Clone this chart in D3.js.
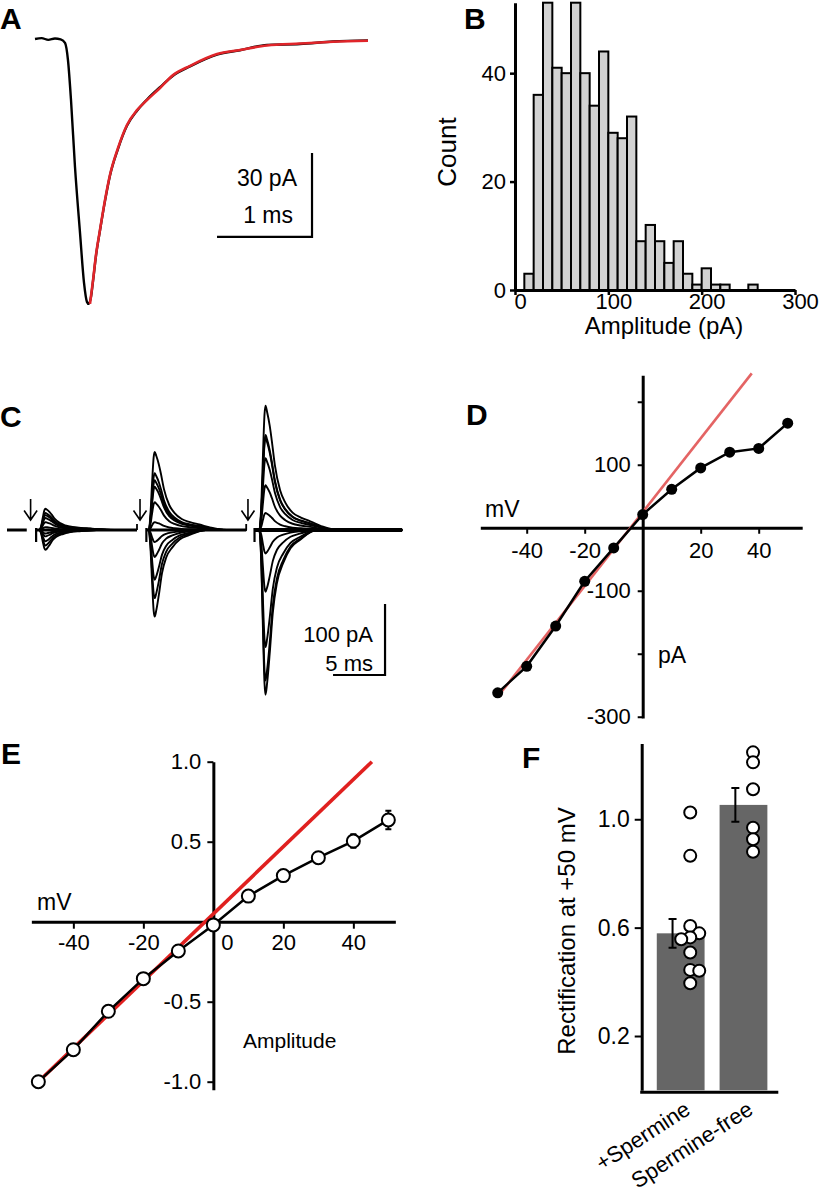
<!DOCTYPE html>
<html><head><meta charset="utf-8">
<script src="https://cdn.jsdelivr.net/npm/d3@7"></script>
<style>
body{margin:0;background:#fff;}
svg text{font-family:"Liberation Sans",Arial,Helvetica,sans-serif;fill:#000;}
</style></head><body>
<svg id="fig" width="827" height="1195"></svg>
<script>
// ================= DATA =================
// Panel A: averaged event (time ms, current pA) and its fit
const traceA_t = [0,0.07,0.14,0.21,0.27,0.316,0.347,0.379,0.421,0.474,0.516,0.547,0.565,0.59,0.611,0.642,0.684,0.737,0.789,0.874,0.968,1.074,1.179,1.316,1.453,1.632,1.916,2.158,2.442,2.789,3.137,3.505];
const traceA_i = [0,0.3,-0.3,0.2,-0.1,-1.4,-7.5,-21.8,-45.7,-69.3,-87.1,-93.9,-94.6,-92,-86.4,-77.4,-68.4,-57.8,-48.8,-39.2,-31,-25.6,-21.6,-17.2,-13.1,-9.8,-5.6,-4.0,-2.1,-1.8,-0.9,-0.5];
const fitA_t = [0.579,0.611,0.642,0.684,0.737,0.789,0.874,0.968,1.074,1.179,1.316,1.453,1.632,1.916,2.158,2.442,2.789,3.137,3.505];
const fitA_i = [-94.6,-86.1,-77.1,-68.2,-57.5,-48.6,-38.9,-30.7,-25.4,-21.8,-17.5,-12.9,-9.6,-5.4,-3.9,-2.3,-1.6,-1.0,-0.6];

// Panel B: amplitude histogram (10 pA bins)
const binStarts = [10,20,30,40,50,60,70,80,90,100,110,120,130,140,150,160,170,180,190,200,210,220,230,240,250];
const binCounts = [3,36,53,41,40,53,40,34,44,29,28,32,9,12,9,5,9,3,1,4,1,1,0,0,1];
const histXTicks = [0,100,200,300];
const histYTicks = [0,20,40];

// Panel C: evoked currents at each holding potential, three stimuli
const voltagesC = [-50,-40,-30,-20,-10,0,10,20,30,40,50];
const ampC1 = [-28,-22,-16,-9,-5,4,11,17,21,24,30];
const ampC2 = [-122,-96,-70,-38,-17,11,39,61,70,80,110];
const ampC3 = [-232,-212,-165,-87,-33,24,63,101,130,134,175];
const stimC = [2.27,12.79,23.17];
const onsetC = [3.1,13.6,24.26];
const segStartC = [2.8,13.4,23.8];
const segEndC = [12.5,23.0,38.0];
const preSegC = [0,1.9];
const outwardT = [0,0.2,0.35,0.5,0.6,0.75,1.0,1.2,1.5,2.0,2.5,3.2,4.0,4.9,6.0,7.5];
const outwardV = [0,0.22,0.6,0.93,1.0,0.95,0.84,0.72,0.52,0.32,0.22,0.14,0.1,0.07,0.03,0];
const inwardT = [0,0.2,0.35,0.5,0.6,0.75,1.0,1.3,1.7,2.3,3.0,3.9,5.5];
const inwardV = [0,0.22,0.6,0.93,1.0,0.93,0.75,0.5,0.32,0.2,0.11,0.06,0];

// Panel D: I-V of one cell
const voltagesD = [-50,-40,-30,-20,-10,0,10,20,30,40,50];
const currentsD = [-262,-220,-156,-85,-32,21,61,95,120,126,166];
const fitD_v = [-48.6,37.6];
const fitD_i = [-260,245];
const xTicksD = [-40,-20,20,40];
const yTicksD = [-300,-200,-100,100,200];
const yLabelsD = [-300,-100,100];

// Panel E: normalized I-V (mean ± SEM)
const voltagesE = [-50,-40,-30,-20,-10,0,10,20,30,40,50];
const ampE = [-1.0,-0.80,-0.56,-0.356,-0.183,-0.02,0.16,0.288,0.40,0.504,0.636];
const semE = [0.01,0.01,0.01,0.01,0.01,0.01,0.01,0.015,0.02,0.042,0.058];
const fitE_v = [-50,45.3];
const fitE_a = [-1.0,1.0];
const xTicksE = [-40,-20,20,40];
const yTicksE = [-1.0,-0.5,0.5,1.0];

// Panel F: rectification index
const groupsF = ["+Spermine","Spermine-free"];
const meansF = [0.579,1.053];
const semF = [0.053,0.062];
const cellsSpermine = [1.025,0.865,0.606,0.579,0.564,0.557,0.508,0.444,0.441,0.395];
const cellsFree = [1.247,1.21,1.111,0.969,0.926,0.88];
const yTicksF = [0.2,0.6,1.0];

// ================= DRAWING =================
const FONT = '"Liberation Sans", Arial, Helvetica, sans-serif';
const svg = d3.select("#fig");
svg.append("rect").attr("width",827).attr("height",1195).attr("fill","#fff");

function styleAxis(g, sw, fs, tw){
  g.attr("font-family", null).attr("font-size", null);
  g.select(".domain").attr("stroke","#000").attr("stroke-width", sw);
  g.selectAll(".tick line").attr("stroke","#000").attr("stroke-width", tw||2);
  g.selectAll(".tick text").style("font-size", fs+"px").style("font-family", FONT).attr("fill","#000");
}
function label(x,y,t,opts){
  opts = opts||{};
  const el = svg.append("text").attr("x",x).attr("y",y).text(t)
    .style("font-size",(opts.size||22)+"px")
    .attr("text-anchor",opts.anchor||"start");
  if(opts.bold) el.style("font-weight","bold");
  if(opts.transform) el.attr("transform",opts.transform);
  return el;
}
// panel letters
[["A",0,29],["B",464,29],["C",0,427],["D",466,425],["E",1,764],["F",522,768]].forEach(d=>label(d[1],d[2],d[0],{bold:true,size:30}));

// ---------- Panel A ----------
{
  const xA = d3.scaleLinear().domain([0,3.5]).range([35,367.5]);
  const yA = d3.scaleLinear().domain([-95,0]).range([305,39]);
  const ln = d3.line().x(d=>xA(d[0])).y(d=>yA(d[1])).curve(d3.curveMonotoneX);
  svg.append("path").attr("d", ln(traceA_t.map((t,i)=>[t,traceA_i[i]])))
    .attr("fill","none").attr("stroke","#000").attr("stroke-width",2.4);
  svg.append("path").attr("d", ln(fitA_t.map((t,i)=>[t,fitA_i[i]])))
    .attr("fill","none").attr("stroke","#e0252a").attr("stroke-width",2.6);
  // scale bar: 30 pA, 1 ms
  const ct = 2.916, ci = -70.7;
  svg.append("path").attr("d",`M${xA(ct-1)},${yA(ci)}H${xA(ct)}V${yA(ci+30)}`)
    .attr("fill","none").attr("stroke","#000").attr("stroke-width",2.2);
  label(297,186,"30 pA",{anchor:"end",size:23});
  label(293,223,"1 ms",{anchor:"end",size:23});
}

// ---------- Panel B ----------
{
  const xB = d3.scaleLinear().domain([0,300]).range([515,795]);
  const yB = d3.scaleLinear().domain([0,53]).range([290,2.7]);
  svg.append("g").selectAll("rect").data(binStarts).join("rect")
    .attr("x",d=>xB(d)).attr("width",d=>xB(d+10)-xB(d))
    .attr("y",(d,i)=>yB(binCounts[i])).attr("height",(d,i)=>yB(0)-yB(binCounts[i]))
    .attr("fill","#d2d2d2").attr("stroke","#000").attr("stroke-width",2)
    .attr("display",(d,i)=>binCounts[i]>0?null:"none");
  const gx = svg.append("g").attr("transform","translate(0,290)")
    .call(d3.axisBottom(xB).tickValues(histXTicks).tickSize(5).tickSizeOuter(0).tickPadding(-2).tickFormat(d=>String(d)));
  styleAxis(gx,3,22,2.5);
  gx.selectAll(".tick text").attr("dx",5);
  const gy = svg.append("g").attr("transform","translate(515,0)")
    .call(d3.axisLeft(yB).tickValues(histYTicks).tickSize(5).tickSizeOuter(0).tickPadding(4).tickFormat(d=>String(d)));
  styleAxis(gy,3,22,2.5);
  label(664,334,"Amplitude (pA)",{anchor:"middle",size:24});
  label(0,0,"Count",{anchor:"middle",size:26,transform:"translate(456,152) rotate(-90)"});
}

// ---------- Panel C ----------
{
  const xC = d3.scaleLinear().domain([0,38]).range([7,402.2]);
  const yC = d3.scaleLinear().domain([-250,190]).range([530+250*0.71,530-190*0.71]);
  const ln = d3.line().x(d=>xC(d[0])).y(d=>yC(d[1])).curve(d3.curveMonotoneX);
  const amps = [ampC1,ampC2,ampC3];
  const gC = svg.append("g");
  // noisy baseline band
  gC.append("path").attr("d",ln([[preSegC[0],0],[preSegC[1],0]])).attr("stroke","#000").attr("stroke-width",3).attr("fill","none");
  segStartC.forEach((s,g)=>{
    gC.append("path").attr("d",`M${xC(s)},${yC(0)}H${xC(segEndC[g])}`).attr("stroke","#000").attr("stroke-width",g===2?3.8:3.2).attr("fill","none");
    // stimulus artifact
    gC.append("path").attr("d",`M${xC(s)},${yC(0)-2}V${yC(0)+12}`).attr("stroke","#000").attr("stroke-width",2.2);
    // end hook before next stimulus
    if(g<segStartC.length-1)
      gC.append("path").attr("d",`M${xC(segEndC[g])},${yC(0)}V${yC(0)-6}`).attr("stroke","#000").attr("stroke-width",1.8);
    // stimulus arrow
    const ax = xC(stimC[g]);
    gC.append("path").attr("d",`M${ax},${499}V${520}M${ax-6.5},${510.5}L${ax},${520}L${ax+6.5},${510.5}`)
      .attr("fill","none").attr("stroke","#000").attr("stroke-width",1.6);
    voltagesC.forEach((v,k)=>{
      const a = amps[g][k];
      const T = a>=0?outwardT:inwardT, V = a>=0?outwardV:inwardV;
      const pts = [[s,0],[onsetC[g]-0.05,0]];
      T.forEach((t,j)=>pts.push([onsetC[g]+t, a*V[j]]));
      pts.push([segEndC[g],0]);
      gC.append("path").attr("d",ln(pts)).attr("fill","none").attr("stroke","#000").attr("stroke-width",1.9);
    });
  });
  // scale bar: 100 pA, 5 ms
  const ct = 36.35, ci = -204.2;
  svg.append("path").attr("d",`M${xC(ct-5)},${yC(ci)}H${xC(ct)}V${yC(ci+100)}`)
    .attr("fill","none").attr("stroke","#000").attr("stroke-width",2.2);
  label(373,642,"100 pA",{anchor:"end",size:22});
  label(373,671,"5 ms",{anchor:"end",size:22});
}

// ---------- Panel D ----------
{
  const xD = d3.scaleLinear().domain([-56,55]).range([480.3,802.2]);
  const yD = d3.scaleLinear().domain([-302,242]).range([718,375.3]);
  const gx = svg.append("g").attr("transform",`translate(0,${yD(0)})`)
    .call(d3.axisBottom(xD).tickValues(xTicksD).tickSize(6).tickSizeOuter(0).tickPadding(9).tickFormat(d=>String(d)));
  styleAxis(gx,3,22,2);
  const gy = svg.append("g").attr("transform",`translate(${xD(0)},0)`)
    .call(d3.axisLeft(yD).tickValues(yTicksD).tickSize(5).tickSizeOuter(0).tickPadding(7).tickFormat(d=>yLabelsD.includes(d)?String(d):""));
  styleAxis(gy,3,22,2);
  svg.append("line").attr("x1",xD(fitD_v[0])).attr("y1",yD(fitD_i[0])).attr("x2",xD(fitD_v[1])).attr("y2",yD(fitD_i[1]))
    .attr("stroke","#e46464").attr("stroke-width",2.6);
  svg.append("path").attr("d",d3.line().x((d,i)=>xD(d)).y((d,i)=>yD(currentsD[i]))(voltagesD))
    .attr("fill","none").attr("stroke","#000").attr("stroke-width",2.5);
  svg.append("g").selectAll("circle").data(voltagesD).join("circle")
    .attr("cx",d=>xD(d)).attr("cy",(d,i)=>yD(currentsD[i])).attr("r",5.5).attr("fill","#000");
  label(485,517,"mV",{size:23});
  label(658,663,"pA",{size:23});
}

// ---------- Panel E ----------
{
  const xE = d3.scaleLinear().domain([-52,52]).range([31.35,395.35]);
  const yE = d3.scaleLinear().domain([-1.05,1.0]).range([1089.7,761.7]);
  const gx = svg.append("g").attr("transform",`translate(0,${yE(0)})`)
    .call(d3.axisBottom(xE).tickValues(xTicksE).tickSize(7).tickSizeOuter(0).tickPadding(6).tickFormat(d=>String(d)));
  styleAxis(gx,3,22,2);
  const gy = svg.append("g").attr("transform",`translate(${xE(0)},0)`)
    .call(d3.axisLeft(yE).tickValues(yTicksE).tickSize(6).tickSizeOuter(0).tickPadding(6).tickFormat(d=>d.toFixed(1)));
  styleAxis(gy,3,22,2);
  label(xE(0)+14,950,"0",{anchor:"middle",size:22});
  svg.append("line").attr("x1",xE(fitE_v[0])).attr("y1",yE(fitE_a[0])).attr("x2",xE(fitE_v[1])).attr("y2",yE(fitE_a[1]))
    .attr("stroke","#e0201f").attr("stroke-width",3.6);
  svg.append("path").attr("d",d3.line().x(d=>xE(d)).y((d,i)=>yE(ampE[i]))(voltagesE))
    .attr("fill","none").attr("stroke","#000").attr("stroke-width",2.5);
  const eb = svg.append("g");
  voltagesE.forEach((v,i)=>{
    const x = xE(v), y1 = yE(ampE[i]+semE[i]), y2 = yE(ampE[i]-semE[i]);
    eb.append("path").attr("d",`M${x},${y1}V${y2}M${x-3},${y1}H${x+3}M${x-3},${y2}H${x+3}`)
      .attr("stroke","#000").attr("stroke-width",2).attr("fill","none");
  });
  svg.append("g").selectAll("circle").data(voltagesE).join("circle")
    .attr("cx",d=>xE(d)).attr("cy",(d,i)=>yE(ampE[i])).attr("r",6.5)
    .attr("fill","#fff").attr("stroke","#000").attr("stroke-width",2);
  label(37,910,"mV",{size:23});
  label(243,1048,"Amplitude",{size:21});
}

// ---------- Panel F ----------
{
  const xF = d3.scaleBand().domain(groupsF).range([641.7,778.3]).paddingInner(0.239).paddingOuter(0.207).align(0.58);
  const yF = d3.scaleLinear().domain([0,1.28]).range([1090.2,743.4]);
  const bw = xF.bandwidth();
  svg.append("g").selectAll("rect").data(groupsF).join("rect")
    .attr("x",d=>xF(d)).attr("width",bw)
    .attr("y",(d,i)=>yF(meansF[i])).attr("height",(d,i)=>yF(0)-yF(meansF[i]))
    .attr("fill","#666666");
  const gy = svg.append("g").attr("transform","translate(641.7,0)")
    .call(d3.axisLeft(yF).tickValues(yTicksF).tickSize(7).tickSizeOuter(0).tickPadding(5).tickFormat(d=>d.toFixed(1)));
  styleAxis(gy,3,23,2);
  svg.append("line").attr("x1",640.2).attr("x2",778.3).attr("y1",yF(0)+2).attr("y2",yF(0)+2)
    .attr("stroke","#000").attr("stroke-width",3);
  // error bars
  groupsF.forEach((g,i)=>{
    const x = xF(g)+bw*0.5-bw*0.17, y1 = yF(meansF[i]+semF[i]), y2 = yF(meansF[i]-semF[i]);
    svg.append("path").attr("d",`M${x},${y1}V${y2}M${x-4},${y1}H${x+4}M${x-4},${y2}H${x+4}`)
      .attr("stroke","#000").attr("stroke-width",2).attr("fill","none");
  });
  // individual cells (dodged)
  function dodge(vals, cx){
    const placed = [];
    const offs = [0,9,-9,18,-18];
    vals.slice().sort((a,b)=>b-a).forEach(v=>{
      const yy = yF(v);
      for(const o of offs){
        if(placed.every(p=>Math.hypot(p.x-(cx+o),p.y-yy)>=9)){placed.push({x:cx+o,y:yy});return;}
      }
      placed.push({x:cx,y:yy});
    });
    return placed;
  }
  [cellsSpermine,cellsFree].forEach((cells,i)=>{
    const cx = xF(groupsF[i])+bw*0.5+bw*0.2;
    svg.append("g").selectAll("circle").data(dodge(cells,cx)).join("circle")
      .attr("cx",d=>d.x).attr("cy",d=>d.y).attr("r",6)
      .attr("fill","#fff").attr("stroke","#000").attr("stroke-width",2);
  });
  groupsF.forEach((g,i)=>{
    const x = xF(g)+bw*0.5+11, y = 1113;
    label(0,0,g,{anchor:"end",size:22,transform:`translate(${x},${y}) rotate(-33)`});
  });
  label(0,0,"Rectification at +50 mV",{anchor:"middle",size:24,transform:"translate(575,931) rotate(-90)"});
}
</script>
</body></html>
